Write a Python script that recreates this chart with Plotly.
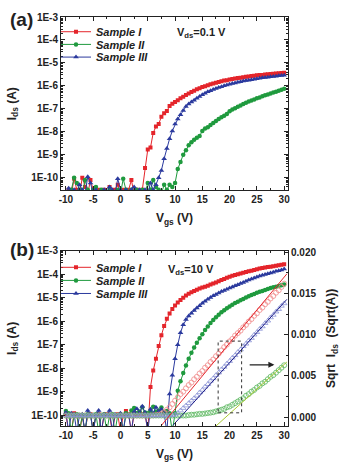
import plotly.graph_objects as go

# ---------------- data ----------------
vgs = [-10, -9.5, -9, -8.5, -8, -7.5, -7, -6.5, -6, -5.5,
       -5, -4.5, -4, -3.5, -3, -2.5, -2, -1.5, -1, -0.5,
       0, 0.5, 1, 1.5, 2, 2.5, 3, 3.5, 4, 4.5,
       5, 5.5, 6, 6.5, 7, 7.5, 8, 8.5, 9, 9.5,
       10, 10.5, 11, 11.5, 12, 12.5, 13, 13.5, 14, 14.5,
       15, 15.5, 16, 16.5, 17, 17.5, 18, 18.5, 19, 19.5,
       20, 20.5, 21, 21.5, 22, 22.5, 23, 23.5, 24, 24.5,
       25, 25.5, 26, 26.5, 27, 27.5, 28, 28.5, 29, 29.5, 30]

series_names = ["Sample I", "Sample II", "Sample III"]

# panel (a): Vds = 0.1 V, Ids (A)
ids_a_I = [2e-11, 3e-11, 2e-11, 9e-11, 3e-11, 2e-11, 1e-10, 4e-11, 2e-11, 8e-11,
           3e-11, 2e-11, 3e-11, 2e-11, 3e-11, 2e-11, 4e-11, 2e-11, 3e-11, 5e-11,
           2e-11, 3e-11, 2e-11, 3e-11, 8e-11, 2e-11, 3e-11, 2e-11, 3e-11, 2.7e-10,
           1.7e-9, 2.1e-9, 9e-9, 1.7e-8, 2.2e-8, 4.5e-8, 6.5e-8, 8e-8, 1.32e-7, 1.66e-7,
           2.0e-7, 2.4e-7, 2.88e-7, 3.39e-7, 3.98e-7, 4.68e-7, 5.37e-7, 6.17e-7, 7.08e-7, 7.94e-7,
           8.91e-7, 9.77e-7, 1.07e-6, 1.17e-6, 1.26e-6, 1.38e-6, 1.48e-6, 1.58e-6, 1.70e-6, 1.78e-6,
           1.91e-6, 2.0e-6, 2.09e-6, 2.19e-6, 2.29e-6, 2.4e-6, 2.51e-6, 2.57e-6, 2.69e-6, 2.75e-6,
           2.88e-6, 2.95e-6, 3.02e-6, 3.16e-6, 3.24e-6, 3.31e-6, 3.39e-6, 3.47e-6, 3.55e-6, 3.63e-6, 3.72e-6]
ids_a_II = [2e-11, 2e-11, 3e-11, 1.0e-10, 6e-11, 3e-11, 2e-11, 8e-11, 3e-11, 2e-11,
            3e-11, 4e-11, 2e-11, 3e-11, 2e-11, 2e-11, 3e-11, 2e-11, 2e-11, 3e-11,
            2e-11, 9e-11, 3e-11, 2e-11, 3e-11, 2e-11, 3e-11, 2e-11, 3e-11, 2e-11,
            6e-11, 3e-11, 8e-11, 4e-11, 3e-11, 2e-11, 5e-11, 3e-11, 5e-11, 4e-11,
            5.9e-11, 2.4e-10, 4.9e-10, 1.0e-9, 1.6e-9, 2.6e-9, 3.5e-9, 4.5e-9, 5.6e-9, 6.6e-9,
            1.1e-8, 1.4e-8, 1.6e-8, 2.0e-8, 2.4e-8, 3.0e-8, 3.6e-8, 4.3e-8, 5.0e-8, 6.0e-8,
            7.9e-8, 9.3e-8, 1.07e-7, 1.23e-7, 1.41e-7, 1.62e-7, 1.86e-7, 2.09e-7, 2.34e-7, 2.57e-7,
            2.88e-7, 3.16e-7, 3.55e-7, 3.89e-7, 4.27e-7, 4.68e-7, 5.13e-7, 5.62e-7, 6.17e-7, 6.76e-7, 7.59e-7]
ids_a_III = [2e-11, 3.5e-11, 2e-11, 3e-11, 2e-11, 5e-11, 3e-11, 2e-11, 1.1e-10, 6e-11,
             2e-11, 3e-11, 2e-11, 2e-11, 3e-11, 2e-11, 4e-11, 3e-11, 2e-11, 9e-11,
             3e-11, 2e-11, 3e-11, 2e-11, 3e-11, 4e-11, 2e-11, 3e-11, 2e-11, 3e-11,
             2e-11, 6e-11, 3e-11, 5e-11, 1.0e-10, 2.1e-10, 6.8e-10, 1.9e-9, 5e-9, 1.1e-8,
             2.2e-8, 3.6e-8, 5.5e-8, 8.5e-8, 1.26e-7, 1.62e-7, 2.0e-7, 2.4e-7, 2.88e-7, 3.47e-7,
             4.07e-7, 4.79e-7, 5.5e-7, 6.17e-7, 6.9e-7, 7.76e-7, 8.5e-7, 9.3e-7, 1.02e-6, 1.1e-6,
             1.17e-6, 1.26e-6, 1.35e-6, 1.45e-6, 1.51e-6, 1.62e-6, 1.7e-6, 1.78e-6, 1.86e-6, 1.95e-6,
             2.04e-6, 2.14e-6, 2.24e-6, 2.34e-6, 2.4e-6, 2.51e-6, 2.57e-6, 2.63e-6, 2.75e-6, 2.82e-6, 2.88e-6]

# panel (b): Vds = 10 V, Ids (A)
ids_b_I = [1.1e-10, 2e-11, 2e-11, 1.2e-10, 1.0e-10, 2e-11, 9e-11, 2e-11, 1.0e-10, 1.1e-10,
           2e-11, 1.0e-10, 1.1e-10, 2e-11, 1.0e-10, 1.1e-10, 1.0e-10, 2e-11, 1.0e-10, 1.1e-10,
           2e-11, 1.0e-10, 1.5e-10, 1.1e-10, 2e-11, 1.2e-10, 1.0e-10, 1.3e-10, 1.1e-10, 1.2e-10,
           2e-11, 1.6e-9, 7.9e-9, 2.5e-8, 8.9e-8, 2.5e-7, 6.3e-7, 1.26e-6, 2.1e-6, 3.3e-6,
           4.7e-6, 6.3e-6, 7.9e-6, 1.0e-5, 1.23e-5, 1.48e-5, 1.7e-5, 1.95e-5, 2.19e-5, 2.45e-5,
           2.69e-5, 2.95e-5, 3.24e-5, 3.63e-5, 3.98e-5, 4.47e-5, 5.0e-5, 5.6e-5, 6.3e-5, 7.1e-5,
           7.8e-5, 8.5e-5, 9.3e-5, 1.0e-4, 1.07e-4, 1.15e-4, 1.23e-4, 1.32e-4, 1.41e-4, 1.51e-4,
           1.62e-4, 1.74e-4, 1.82e-4, 1.91e-4, 2.0e-4, 2.09e-4, 2.19e-4, 2.29e-4, 2.4e-4, 2.51e-4, 2.63e-4]
ids_b_II = [1.5e-10, 1.2e-10, 2e-11, 1.0e-10, 1.1e-10, 2e-11, 1.0e-10, 2e-11, 1.1e-10, 1.0e-10,
            2e-11, 1.1e-10, 2e-11, 1.0e-10, 1.1e-10, 2e-11, 1.0e-10, 1.1e-10, 2e-11, 1.0e-10,
            1.1e-10, 2e-11, 1.2e-10, 1.0e-10, 1.6e-10, 2.0e-10, 1.2e-10, 1.4e-10, 2.2e-10, 1.3e-10,
            1.2e-10, 1.5e-10, 2.3e-10, 1.4e-10, 1.6e-10, 2.1e-10, 1.3e-10, 1.5e-10, 1.2e-10, 2e-11,
            1.2e-10, 1.1e-9, 2.8e-9, 6.3e-9, 1.3e-8, 2.5e-8, 4.5e-8, 7.6e-8, 1.2e-7, 1.9e-7,
            2.8e-7, 4.2e-7, 6.0e-7, 8.3e-7, 1.12e-6, 1.48e-6, 1.9e-6, 2.4e-6, 2.95e-6, 3.55e-6,
            4.27e-6, 5.0e-6, 5.9e-6, 6.8e-6, 7.8e-6, 8.9e-6, 1.02e-5, 1.15e-5, 1.29e-5, 1.45e-5,
            1.62e-5, 1.78e-5, 1.95e-5, 2.14e-5, 2.34e-5, 2.57e-5, 2.75e-5, 2.95e-5, 3.16e-5, 3.39e-5, 3.63e-5]
ids_b_III = [1.3e-10, 2e-11, 1.2e-10, 1.1e-10, 2e-11, 1.0e-10, 1.1e-10, 2e-11, 1.6e-10, 1.1e-10,
             2e-11, 1.0e-10, 1.6e-10, 2e-11, 1.1e-10, 1.0e-10, 1.6e-10, 2e-11, 1.1e-10, 1.0e-10,
             1.2e-10, 2e-11, 1.1e-10, 1.0e-10, 2e-11, 1.4e-10, 1.9e-10, 1.2e-10, 2.4e-10, 1.3e-10,
             2e-11, 1.8e-10, 1.2e-10, 2.2e-10, 1.4e-10, 1.8e-10, 1.2e-10, 2e-11, 7.9e-10, 5e-9,
             2.5e-8, 1e-7, 3.2e-7, 7.1e-7, 1.17e-6, 1.66e-6, 2.19e-6, 2.82e-6, 3.63e-6, 4.57e-6,
             5.75e-6, 7.08e-6, 8.5e-6, 1.02e-5, 1.2e-5, 1.38e-5, 1.58e-5, 1.82e-5, 2.04e-5, 2.29e-5,
             2.57e-5, 2.88e-5, 3.24e-5, 3.55e-5, 3.98e-5, 4.47e-5, 5.0e-5, 5.6e-5, 6.3e-5, 6.9e-5,
             7.6e-5, 8.3e-5, 9.1e-5, 9.8e-5, 1.05e-4, 1.12e-4, 1.2e-4, 1.32e-4, 1.41e-4, 1.51e-4, 1.66e-4]

# panel (b): sqrt(Ids) (Sqrt(A)), right axis
sqrt_I = [0.0002, 0.0002, 0.0002, 0.0002, 0.0002, 0.0002, 0.0002, 0.0002, 0.0002, 0.0002,
          0.0002, 0.0002, 0.0002, 0.0002, 0.0002, 0.0002, 0.0002, 0.0002, 0.0002, 0.0002,
          0.0002, 0.0002, 0.0002, 0.0002, 0.0002, 0.0002, 0.0002, 0.0002, 0.0002, 0.0002,
          0.0002, 0.0002, 0.00022, 0.00025, 0.0003, 0.0004, 0.0006, 0.0009, 0.0012, 0.0016,
          0.0020, 0.0024, 0.0028, 0.0031, 0.0035, 0.0039, 0.0042, 0.0046, 0.0049, 0.0053,
          0.0056, 0.0060, 0.0063, 0.0067, 0.0070, 0.0074, 0.0077, 0.0081, 0.0085, 0.0088,
          0.0092, 0.0095, 0.0099, 0.0102, 0.0105, 0.0109, 0.0112, 0.0116, 0.0119, 0.0123,
          0.0126, 0.0130, 0.0133, 0.0137, 0.0140, 0.0144, 0.0147, 0.0151, 0.0154, 0.0158, 0.0162]
sqrt_II = [0.0002, 0.0002, 0.0002, 0.0002, 0.0002, 0.0002, 0.0002, 0.0002, 0.0002, 0.0002,
           0.0002, 0.0002, 0.0002, 0.0002, 0.0002, 0.0002, 0.0002, 0.0002, 0.0002, 0.0002,
           0.0002, 0.0002, 0.0002, 0.0002, 0.0002, 0.0002, 0.0002, 0.0002, 0.0002, 0.0002,
           0.0002, 0.0002, 0.0002, 0.0002, 0.0002, 0.0002, 0.0002, 0.0002, 0.0002, 0.0002,
           0.0002, 0.0002, 0.0002, 0.0002, 0.0002, 0.00025, 0.0003, 0.0003, 0.00035, 0.0004,
           0.0004, 0.00045, 0.0005, 0.00055, 0.0006, 0.0007, 0.0008, 0.0009, 0.0010, 0.0012,
           0.0013, 0.0015, 0.0017, 0.0019, 0.0021, 0.0023, 0.0026, 0.0028, 0.0031, 0.0033,
           0.0036, 0.0038, 0.0041, 0.0043, 0.0046, 0.0049, 0.0051, 0.0054, 0.0057, 0.0060, 0.0063]
sqrt_III = [0.0002, 0.0002, 0.0002, 0.0002, 0.0002, 0.0002, 0.0002, 0.0002, 0.0002, 0.0002,
            0.0002, 0.0002, 0.0002, 0.0002, 0.0002, 0.0002, 0.0002, 0.0002, 0.0002, 0.0002,
            0.0002, 0.0002, 0.0002, 0.0002, 0.0002, 0.0002, 0.0002, 0.0002, 0.0002, 0.0002,
            0.0002, 0.0002, 0.0002, 0.0002, 0.0002, 0.0002, 0.0002, 0.0002, 0.0002, 0.00022,
            0.0003, 0.0005, 0.0008, 0.0011, 0.0014, 0.0017, 0.0020, 0.0023, 0.0026, 0.0030,
            0.0033, 0.0037, 0.0040, 0.0044, 0.0047, 0.0051, 0.0054, 0.0058, 0.0061, 0.0065,
            0.0068, 0.0072, 0.0075, 0.0079, 0.0082, 0.0086, 0.0089, 0.0093, 0.0096, 0.0100,
            0.0103, 0.0107, 0.0110, 0.0114, 0.0117, 0.0121, 0.0124, 0.0128, 0.0131, 0.0135, 0.0138]

# linear fits of sqrt(Ids)
fit_I_x, fit_I_y = [7.5, 30.5], [-0.0010, 0.0174]
fit_II_x, fit_II_y = [17.5, 30.5], [-0.00107, 0.0067]
fit_III_x, fit_III_y = [9.6, 30.5], [-0.0010, 0.0143]

# window (dotted box) and arrow, in data units of panel (b)
box_vgs = [17.9, 22.2]
box_sqrt = [0.00053, 0.00923]
arrow_vgs = [23.4, 28.2]
arrow_sqrt = 0.00635

log_ticks = [1e-3, 1e-4, 1e-5, 1e-6, 1e-7, 1e-8, 1e-9, 1e-10]
log_ticktext = ["1E-3", "1E-4", "1E-5", "1E-6", "1E-7", "1E-8", "1E-9", "1E-10"]
x_ticks = [-10, -5, 0, 5, 10, 15, 20, 25, 30]
x_ticktext = ["-10", "-5", "0", "5", "10", "15", "20", "25", "30"]

# ---------------- styling ----------------
RED = "#e4252b"
GREEN = "#1f9a3e"
BLUE = "#2b3a9e"
RED_O = "#f08a8a"
GREEN_O = "#5cb860"
BLUE_O = "#8a93d6"
FONT = "Arial, Liberation Sans, sans-serif"
INK = "#222222"

fig = go.Figure()

colors = [RED, GREEN, BLUE]
symbols = ["square", "circle", "triangle-up"]
sizes = [4, 4.5, 5]
legends_a = ["legend", "legend2", "legend3"]
legends_b = ["legend4", "legend5", "legend6"]

for name, ys, c, s, sz, lg in zip(series_names, [ids_a_I, ids_a_II, ids_a_III], colors, symbols, sizes, legends_a):
    fig.add_trace(go.Scatter(x=vgs, y=ys, mode="lines+markers", name=name,
                             line=dict(color=c, width=1),
                             marker=dict(symbol=s, size=sz, color=c, line=dict(width=0)),
                             xaxis="x", yaxis="y", legend=lg))

# sqrt traces first so filled curves sit on top
for ys, c, s in zip([sqrt_I, sqrt_II, sqrt_III], [RED_O, GREEN_O, BLUE_O],
                    ["circle-open", "circle-open", "triangle-up-open"]):
    fig.add_trace(go.Scatter(x=vgs, y=ys, mode="markers", showlegend=False,
                             marker=dict(symbol=s, size=5, color=c, line=dict(width=0.8, color=c)),
                             xaxis="x2", yaxis="y3"))
for fx, fy, c in [(fit_I_x, fit_I_y, RED), (fit_II_x, fit_II_y, "#a9c834"), (fit_III_x, fit_III_y, "#1b1b86")]:
    fig.add_trace(go.Scatter(x=fx, y=fy, mode="lines", showlegend=False,
                             line=dict(color=c, width=1), xaxis="x2", yaxis="y3"))

for name, ys, c, s, sz, lg in zip(series_names, [ids_b_I, ids_b_II, ids_b_III], colors, symbols, sizes, legends_b):
    fig.add_trace(go.Scatter(x=vgs, y=ys, mode="lines+markers", name=name,
                             line=dict(color=c, width=1),
                             marker=dict(symbol=s, size=sz, color=c, line=dict(width=0)),
                             xaxis="x2", yaxis="y2", legend=lg))

tickfont = dict(family=FONT, size=10, color=INK, weight="bold")
titlefont = dict(family=FONT, size=12, color=INK, weight="bold")

xcommon = dict(range=[-10.9, 30.7], tickvals=x_ticks, ticktext=x_ticktext,
               ticks="inside", ticklen=4, tickwidth=1,
               tickcolor=INK, showline=True, linecolor=INK, linewidth=1, mirror="ticks",
               showgrid=False, zeroline=False, tickfont=tickfont,
               minor=dict(tickmode="array", tickvals=[-7.5, -2.5, 2.5, 7.5, 12.5, 17.5, 22.5, 27.5],
                          ticks="inside", ticklen=2, tickcolor=INK, showgrid=False),
               title=dict(text="V<sub>gs</sub> (V)", font=titlefont, standoff=9))
minor_log = [m * 10.0 ** e for e in range(-11, -3) for m in range(2, 10)]
ycommon = dict(type="log", tickvals=log_ticks, ticktext=log_ticktext, ticks="inside", ticklen=4,
               tickwidth=1, tickcolor=INK, showline=True, linecolor=INK, linewidth=1,
               showgrid=False, zeroline=False, tickfont=tickfont,
               minor=dict(tickmode="array", tickvals=minor_log, ticks="inside", ticklen=2,
                          tickcolor=INK, showgrid=False),
               title=dict(text="I<sub>ds</sub> (A)", font=titlefont, standoff=12))

legend_font = dict(family=FONT, size=11, color=INK, weight="bold", style="italic")


def leg(ypaper):
    return dict(x=-0.022, y=ypaper, xanchor="left", yanchor="middle", bgcolor="rgba(0,0,0,0)",
                font=legend_font, itemwidth=30, tracegroupgap=0)


fig.update_layout(
    width=347, height=469,
    margin=dict(l=58, r=51, t=11, b=38),
    paper_bgcolor="white", plot_bgcolor="white",
    font=dict(family=FONT, size=10, color=INK),
    xaxis=dict(xcommon, domain=[0, 1], anchor="y"),
    yaxis=dict(ycommon, domain=[0.576, 1.0], anchor="x", range=[-10.55, -3], mirror="ticks"),
    xaxis2=dict(xcommon, domain=[0, 1], anchor="y2"),
    yaxis2=dict(ycommon, domain=[0, 0.4286], anchor="x2", range=[-10.46, -3], mirror=False),
    yaxis3=dict(overlaying="y2", side="right", anchor="x2", range=[-0.00107, 0.0202],
                tickvals=[0, 0.005, 0.010, 0.015, 0.020], tickformat=".3f",
                ticks="inside", ticklen=4, tickwidth=1, tickcolor=INK,
                showline=True, linecolor=INK, linewidth=1, showgrid=False, zeroline=False,
                tickfont=tickfont,
                minor=dict(dtick=0.0025, ticks="inside", ticklen=2, tickcolor=INK, showgrid=False),
                title=dict(text="Sqrt  I<sub>ds</sub>  (Sqrt(A))", font=titlefont, standoff=11)),
    legend=leg(0.964), legend2=leg(0.933), legend3=leg(0.902),
    legend4=leg(0.388), legend5=leg(0.356), legend6=leg(0.324),
    shapes=[dict(type="rect", xref="x2", yref="y3", x0=box_vgs[0], x1=box_vgs[1],
                 y0=box_sqrt[0], y1=box_sqrt[1], line=dict(color="#333333", width=1, dash="dot"))],
    annotations=[
        dict(text="(a)", xref="paper", yref="paper", x=-0.172, y=0.995, xanchor="center",
             yanchor="middle", showarrow=False, font=dict(family=FONT, size=19, color=INK, weight="bold")),
        dict(text="(b)", xref="paper", yref="paper", x=-0.172, y=0.431, xanchor="center",
             yanchor="middle", showarrow=False, font=dict(family=FONT, size=19, color=INK, weight="bold")),
        dict(text="V<sub>ds</sub>=0.1 V", xref="paper", yref="paper", x=0.50, y=0.962,
             xanchor="left", yanchor="middle", showarrow=False,
             font=dict(family=FONT, size=11, color=INK, weight="bold")),
        dict(text="V<sub>ds</sub>=10 V", xref="paper", yref="paper", x=0.462, y=0.381,
             xanchor="left", yanchor="middle", showarrow=False,
             font=dict(family=FONT, size=11, color=INK, weight="bold")),
        dict(text="", xref="x2", yref="y3", x=arrow_vgs[1], y=arrow_sqrt,
             axref="x2", ayref="y3", ax=arrow_vgs[0], ay=arrow_sqrt,
             showarrow=True, arrowhead=2, arrowsize=1, arrowwidth=1.2, arrowcolor=INK),
    ],
)

fig.write_html("out.html")
